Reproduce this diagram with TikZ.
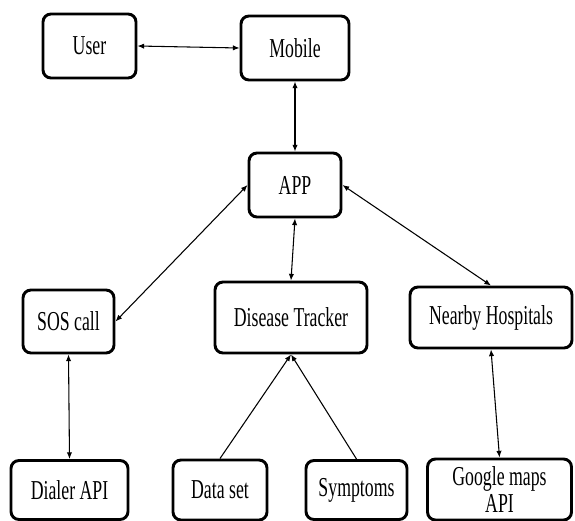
\documentclass[tikz,border=0pt]{standalone}
\usepackage{fontspec}
\setmainfont{Liberation Serif}[FakeStretch=0.65]
\usetikzlibrary{arrows.meta}

\tikzset{every picture/.style={line width=0.75pt}}
\tikzset{
  blockbox/.style={draw, line width=2.2pt, rounded corners=6pt, inner sep=0pt, align=center, font=\fontsize{20.5}{20}\selectfont},
  link/.style={line width=0.8pt, {Latex[length=5pt,width=4pt]}-{Latex[length=5pt,width=4pt]}},
  feed/.style={line width=0.8pt, -{Latex[length=5pt,width=4pt]}}
}

\begin{document}
\begin{tikzpicture}[x=0.75pt,y=0.75pt,yscale=-1,xscale=1]
\useasboundingbox (0,0) rectangle (575,521);

%Shape: Rounded Rect [id:user] 
\node [blockbox, minimum width=69.75pt, minimum height=48pt] (user) at (89.5,46) {User};
%Shape: Rounded Rect [id:mobile] 
\node [blockbox, minimum width=81pt, minimum height=48pt] (mobile) at (295,48) {Mobile};
%Shape: Rounded Rect [id:app] 
\node [blockbox, minimum width=69pt, minimum height=48pt] (app) at (295,185) {APP};
%Shape: Rounded Rect [id:sos] 
\node [blockbox, minimum width=68.25pt, minimum height=47.25pt] (sos) at (68.5,321.5) {SOS call};
%Shape: Rounded Rect [id:disease] 
\node [blockbox, minimum width=114pt, minimum height=53.25pt] (disease) at (291,317.5) {Disease Tracker};
%Shape: Rounded Rect [id:nearby] 
\node [blockbox, minimum width=121.5pt, minimum height=45.75pt] (nearby) at (491,317.5) {Nearby Hospitals};
%Shape: Rounded Rect [id:dialer] 
\node [blockbox, minimum width=87.75pt, minimum height=44.25pt] (dialer) at (69.5,490) {Dialer API};
%Shape: Rounded Rect [id:dataset] 
\node [blockbox, minimum width=70.5pt, minimum height=45pt] (dataset) at (220,490) {Data set};
%Shape: Rounded Rect [id:symptoms] 
\node [blockbox, minimum width=75.75pt, minimum height=44.25pt] (symptoms) at (356.5,490) {Symptoms};
%Shape: Rounded Rect [id:gmaps] 
\node [blockbox, minimum width=108pt, minimum height=45.75pt] (gmaps) at (499.5,489.5) {Google maps\\API};

%Straight Lines [id:user-mobile] 
\draw [link] (user.east) -- (mobile.west);
%Straight Lines [id:mobile-app] 
\draw [link] (mobile.south) -- (app.north);
%Straight Lines [id:app-sos] 
\draw [link] (app.west) -- (sos.east);
%Straight Lines [id:app-disease] 
\draw [link] (app.south) -- (disease.north);
%Straight Lines [id:app-nearby] 
\draw [link] (app.east) -- (nearby.north);
%Straight Lines [id:sos-dialer] 
\draw [link] (sos.south) -- (dialer.north);
%Straight Lines [id:nearby-gmaps] 
\draw [link] (nearby.south) -- (gmaps.north);
%Straight Lines [id:dataset-disease] 
\draw [feed] (dataset.north) -- (disease.south);
%Straight Lines [id:symptoms-disease] 
\draw [feed] (symptoms.north) -- (disease.south);

\end{tikzpicture}
\end{document}
